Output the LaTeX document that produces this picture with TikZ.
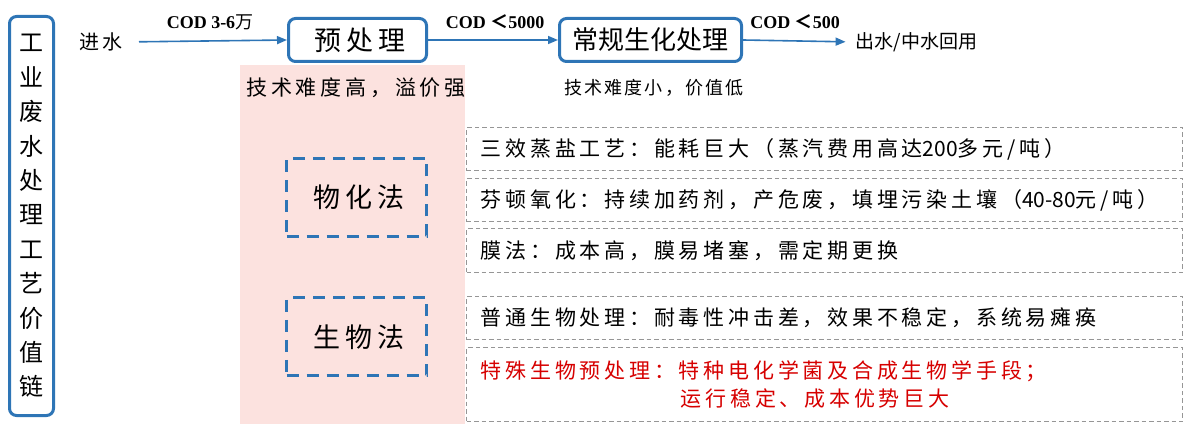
\documentclass[tikz,border=0pt]{standalone}
\usepackage{fontspec}
\setmainfont{Liberation Serif}
\newfontfamily\cjk{Noto Sans CJK SC}
\newfontfamily\cjkls{Noto Sans CJK SC}[LetterSpace=18]
\newfontfamily\cjklt{Noto Sans CJK SC}[LetterSpace=12]
\usetikzlibrary{arrows.meta}
\definecolor{myblue}{RGB}{46,117,182}
\definecolor{mypink}{RGB}{252,226,223}
\definecolor{myred}{RGB}{214,0,0}
\definecolor{mygray}{RGB}{150,150,150}
\newcommand{\dg}[1]{{\cjk #1}}
\tikzset{
  procbox/.style={draw=myblue, line width=3pt, rounded corners=7pt, minimum height=43pt, inner sep=0pt},
  methbox/.style={draw=myblue, line width=3pt, dash pattern=on 12pt off 8pt, minimum width=140pt, minimum height=78pt, inner sep=0pt, font=\cjkls\fontsize{27}{30}\selectfont},
  detail/.style={draw=mygray, line width=1.4pt, dash pattern=on 4.5pt off 3pt, anchor=north west, text width=688pt, inner xsep=14pt, inner ysep=0pt, align=left, font=\cjkls\fontsize{21}{28}\selectfont},
  flow/.style={draw=myblue, line width=1.6pt, -{Triangle[length=10pt,width=8pt]}},
  codlab/.style={font=\bfseries\fontsize{18}{20}\selectfont, inner sep=0pt},
  plain/.style={inner sep=0pt}
}
\begin{document}
\begin{tikzpicture}[x=1pt,y=-1pt]
\useasboundingbox (0,0) rectangle (1200,430);
% pink background
\fill[mypink] (240,65) rectangle (465,424);
% left vertical box
\node[draw=myblue, line width=3pt, rounded corners=7pt, minimum width=44pt, minimum height=399pt, inner sep=0pt, align=center, font=\cjk\fontsize{24}{34.4}\selectfont] (side) at (31.5,216) {工\\业\\废\\水\\处\\理\\工\\艺\\价\\值\\链};
% top flow
\node[plain, font=\cjkls\fontsize{20}{24}\selectfont] (in) at (101,42) {进水};
\node[procbox, minimum width=138pt, font=\cjkls\fontsize{27}{30}\selectfont] (pre) at (357.5,40) {\hspace*{5pt}预处理};
\node[procbox, minimum width=182pt, font=\cjk\fontsize{26}{30}\selectfont] (conv) at (650.5,40) {常规生化处理};
\node[plain, font=\cjk\fontsize{19}{24}\selectfont] (out) at (916.5,42) {出水/中水回用};
\draw[flow, shorten <=16pt] (in.east) -- (pre.west);
\draw[flow] (pre.east) -- (conv.west);
\draw[flow, shorten >=10pt] (conv.east) -- (out.west);
\node[codlab] (l1) at (210,22) {COD 3-6{\cjk\mdseries 万}};
\node[codlab] (l2) at (495,22) {COD {\cjk ＜}5000};
\node[codlab] (l3) at (795,22) {COD {\cjk ＜}500};
% captions
\node[plain, font=\cjkls\fontsize{21}{24}\selectfont] (capA) at (356,88) {技术难度高，溢价强};
\node[plain, font=\cjklt\fontsize{18}{22}\selectfont] (capB) at (654,88) {技术难度小，价值低};
% method boxes
\node[methbox] (phys) at (356.5,197.5) {\hspace*{5pt}物化法};
\node[methbox] (bio) at (356.5,337) {\hspace*{5pt}生物法};
% detail rows
\node[detail, minimum height=43pt] (r1) at (466,127) {三效蒸盐工艺：能耗巨大（蒸汽费用高达\dg{200}多元/吨）};
\node[detail, minimum height=43pt] (r2) at (466,178) {芬顿氧化：持续加药剂，产危废，填埋污染土壤（\dg{40-80}元/吨）};
\node[detail, minimum height=44pt] (r3) at (466,228) {膜法：成本高，膜易堵塞，需定期更换};
\node[detail, minimum height=43pt] (r4) at (466,296) {普通生物处理：耐毒性冲击差，效果不稳定，系统易瘫痪};
\node[detail, minimum height=74pt, text=myred] (r5) at (466,347) {特殊生物预处理：特种电化学菌及合成生物学手段；\\\hspace*{200pt}运行稳定、成本优势巨大};
\end{tikzpicture}
\end{document}
